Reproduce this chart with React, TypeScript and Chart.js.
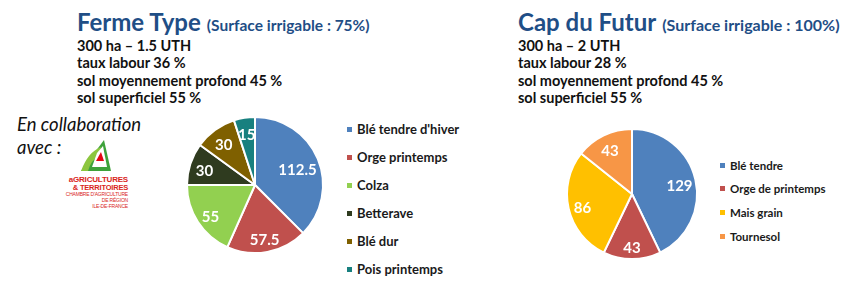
import React, { useEffect, useRef } from "react";
import { Chart, registerables } from "chart.js";

Chart.register(...registerables);

// ---- Data ----
const fermeCategories = ["Blé tendre d'hiver", "Orge printemps", "Colza", "Betterave", "Blé dur", "Pois printemps"];
const fermeValues = [112.5, 57.5, 55, 30, 30, 15];
const fermeColors = ["#4F81BD", "#C0504D", "#92D050", "#2F3B1F", "#7F6000", "#18807F"];

const capCategories = ["Blé tendre", "Orge de printemps", "Mais grain", "Tournesol"];
const capValues = [129, 43, 86, 43];
const capColors = ["#4F81BD", "#C0504D", "#FFC000", "#F79646"];

const fermeTitle = "Ferme Type";
const fermeSubtitle = "(Surface irrigable : 75%)";
const fermeLines = ["300 ha – 1.5 UTH", "taux labour 36 %", "sol moyennement profond 45 %", "sol superficiel 55 %"];

const capTitle = "Cap du Futur";
const capSubtitle = "(Surface irrigable : 100%)";
const capLines = ["300 ha – 2 UTH", "taux labour 28 %", "sol moyennement profond 45 %", "sol superficiel 55 %"];

const FONT = "Lato, 'Open Sans', sans-serif";
const TITLE_BLUE = "#1F4E86";
const LABEL_SIZE = 15;

const sliceLabels = {
  id: "sliceLabels",
  afterDatasetsDraw(chart: any) {
    const ctx = chart.ctx;
    const meta = chart.getDatasetMeta(0);
    const data = chart.data.datasets[0].data;
    ctx.save();
    ctx.font = `bold ${LABEL_SIZE}px Lato`;
    ctx.fillStyle = "#ffffff";
    ctx.textAlign = "center";
    ctx.textBaseline = "middle";
    meta.data.forEach((arc: any, i: number) => {
      const { x, y, startAngle, endAngle, outerRadius } = arc.getProps(
        ["x", "y", "startAngle", "endAngle", "outerRadius"],
        true
      );
      const text = String(data[i]);
      const w = ctx.measureText(text).width;
      const h = LABEL_SIZE * 0.72;
      const mid = (startAngle + endAngle) / 2;
      const limit = outerRadius - 3;
      let d = outerRadius * 0.78;
      for (; d > outerRadius * 0.3; d -= 0.5) {
        const px = Math.cos(mid) * d;
        const py = Math.sin(mid) * d + 3;
        let ok = true;
        for (const sx of [-1, 1]) {
          for (const sy of [-1, 1]) {
            const cx = px + (sx * w) / 2;
            const cy = py + (sy * h) / 2;
            if (Math.hypot(cx, cy) > limit) ok = false;
          }
        }
        if (ok) break;
      }
      ctx.fillText(text, x + Math.cos(mid) * d, y + Math.sin(mid) * d + 3);
    });
    ctx.restore();
  },
};

const PAD = 20;

function Pie(props: { categories: string[]; values: number[]; colors: string[]; cx: number; cy: number; r: number }) {
  const ref = useRef<HTMLCanvasElement>(null);
  const size = 2 * props.r + 2 + 2 * PAD;
  useEffect(() => {
    const chart = new Chart(ref.current as HTMLCanvasElement, {
      type: "pie",
      data: {
        labels: props.categories,
        datasets: [
          {
            data: props.values,
            backgroundColor: props.colors,
            borderColor: "#ffffff",
            borderWidth: 2,
          },
        ],
      },
      options: {
        responsive: false,
        animation: false,
        layout: { padding: PAD },
        plugins: { legend: { display: false }, tooltip: { enabled: false } },
      },
      plugins: [sliceLabels],
    } as any);
    return () => chart.destroy();
  }, []);
  return (
    <canvas
      ref={ref}
      width={size}
      height={size}
      style={{ position: "absolute", left: props.cx - size / 2, top: props.cy - size / 2, width: size, height: size }}
    />
  );
}

function Legend(props: { categories: string[]; colors: string[]; left: number; firstY: number; step: number; fontSize: number }) {
  return (
    <>
      {props.categories.map((c, i) => (
        <div
          key={c}
          style={{
            position: "absolute",
            left: props.left,
            top: props.firstY + i * props.step - 8,
            height: 16,
            display: "flex",
            alignItems: "center",
            fontFamily: FONT,
            fontWeight: 700,
            fontSize: props.fontSize,
            color: "#1a1a1a",
            whiteSpace: "nowrap",
          }}
        >
          <span style={{ display: "inline-block", width: 5, height: 5, background: props.colors[i], marginRight: 5 }} />
          <span>{c}</span>
        </div>
      ))}
    </>
  );
}

function Header(props: { left: number; title: string; subtitle: string; subSize: number; lines: string[] }) {
  return (
    <>
      <div
        style={{
          position: "absolute",
          left: props.left,
          top: 10,
          fontFamily: FONT,
          fontWeight: 700,
          fontSize: 24,
          lineHeight: "24px",
          color: TITLE_BLUE,
          whiteSpace: "nowrap",
        }}
      >
        <span>{props.title}</span>
        <span style={{ fontSize: props.subSize, marginLeft: 6 }}>{props.subtitle}</span>
      </div>
      <div
        style={{
          position: "absolute",
          left: props.left,
          top: 36.6,
          fontFamily: FONT,
          fontWeight: 700,
          fontSize: 14.5,
          lineHeight: "17.6px",
          color: "#111",
          whiteSpace: "nowrap",
        }}
      >
        {props.lines.map((l) => (
          <div key={l}>{l}</div>
        ))}
      </div>
    </>
  );
}

function Logo() {
  const red = "#D9261C";
  const line = (text: string, top: number, size: number, weight: number) => (
    <div
      style={{
        position: "absolute",
        right: 722,
        top,
        fontFamily: "'Liberation Sans', Arial, sans-serif",
        fontSize: size,
        fontWeight: weight,
        lineHeight: 1,
        color: red,
        whiteSpace: "nowrap",
        letterSpacing: -0.2,
      }}
    >
      {text}
    </div>
  );
  return (
    <>
      <svg style={{ position: "absolute", left: 78, top: 138 }} width={36} height={36} viewBox="78 138 36 36">
        <path d="M81,171 L104,140 L111,171 Z" fill="#3DA23A" />
        <path d="M81,171 Q88,152 101,147 L99,156 Q91,160 88,171 Z" fill="#8CC63F" />
        <path d="M97,153 L103,146 L107,167 L92,167 Z" fill="#ffffff" />
        <path d="M96,161 L101,152 L104,161 Z" fill="#E30613" />
      </svg>
      {line("aGRICULTURES", 176, 8, 700)}
      {line("& TERRITOIRES", 184, 7.5, 700)}
      {line("CHAMBRE D'AGRICULTURE", 192, 5, 400)}
      {line("DE RÉGION", 198, 5, 400)}
      {line("ILE-DE-FRANCE", 204, 5, 400)}
    </>
  );
}

export default function App() {
  return (
    <div
      style={{
        position: "absolute",
        left: 0,
        top: 0,
        width: 850,
        height: 283,
        background: "#ffffff",
        overflow: "hidden",
      }}
    >
      <Header left={77} title={fermeTitle} subtitle={fermeSubtitle} subSize={15.5} lines={fermeLines} />
      <Header left={518} title={capTitle} subtitle={capSubtitle} subSize={16} lines={capLines} />

      <div
        style={{
          position: "absolute",
          left: 17,
          top: 113,
          fontFamily: FONT,
          fontStyle: "italic",
          fontSize: 18.5,
          lineHeight: "23px",
          color: "#111",
        }}
      >
        <div>En collaboration</div>
        <div>avec :</div>
      </div>
      <Logo />

      <Pie categories={fermeCategories} values={fermeValues} colors={fermeColors} cx={255} cy={185} r={68} />
      <Legend categories={fermeCategories} colors={fermeColors} left={347} firstY={129} step={28} fontSize={13} />

      <Pie categories={capCategories} values={capValues} colors={capColors} cx={632} cy={194} r={65} />
      <Legend categories={capCategories} colors={capColors} left={720} firstY={165} step={23.7} fontSize={11.5} />
    </div>
  );
}
